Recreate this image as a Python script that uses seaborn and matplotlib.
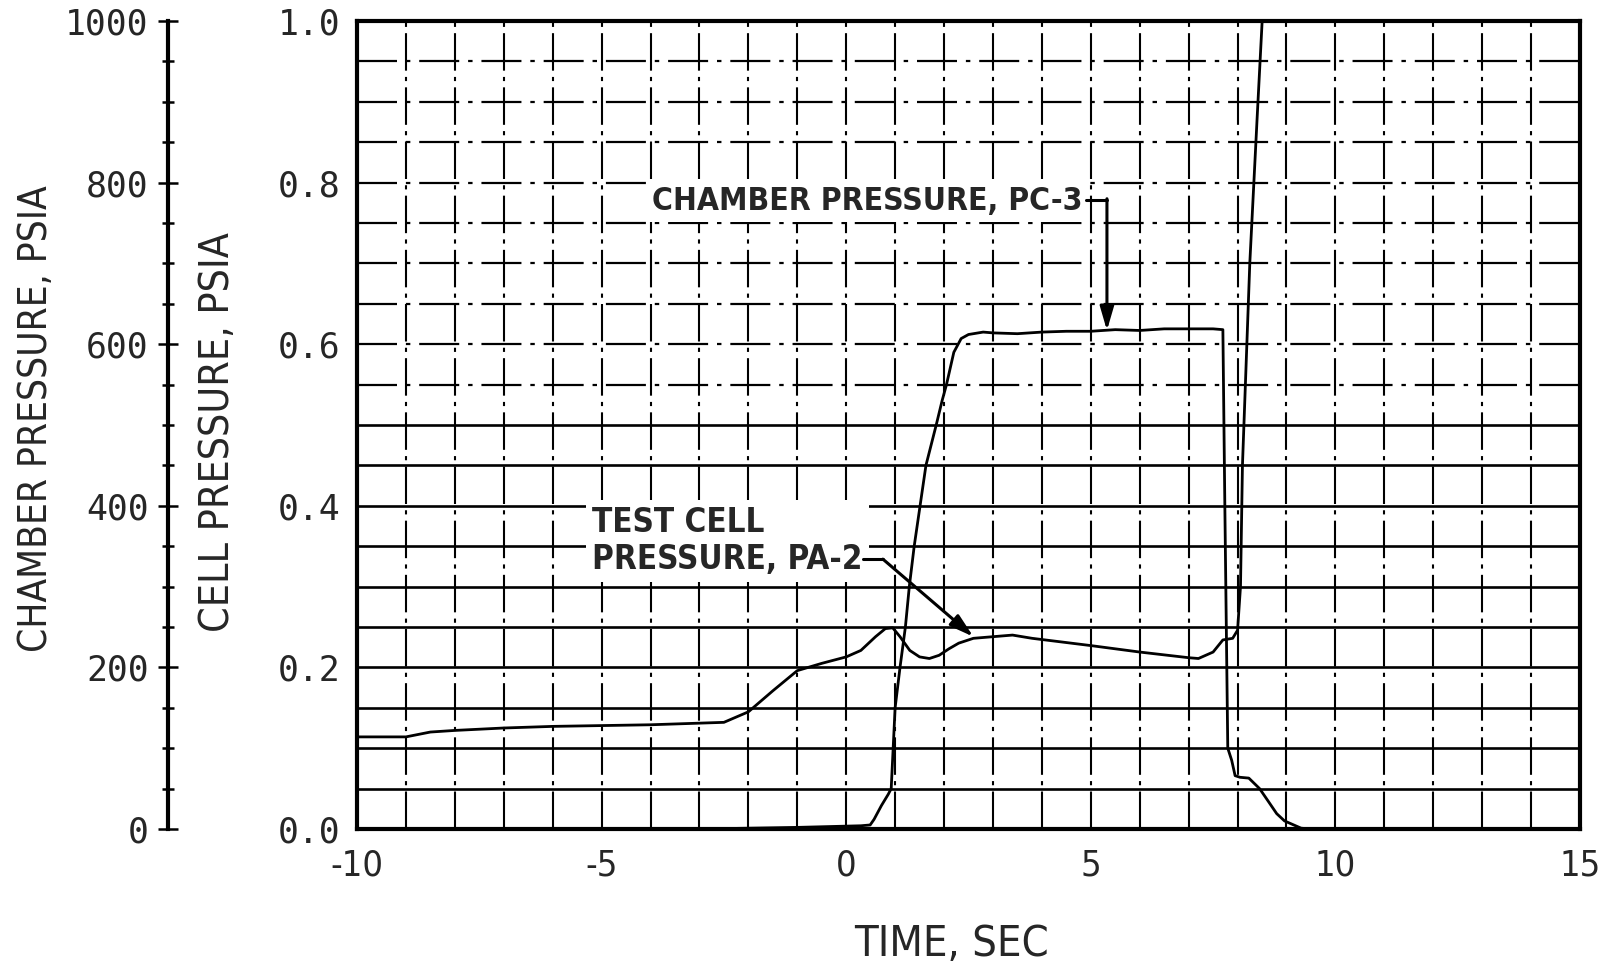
import numpy as np
import pandas as pd
import matplotlib
matplotlib.use('Agg')
import matplotlib.pyplot as plt
import seaborn as sns
from matplotlib import font_manager
from matplotlib.ticker import MultipleLocator

# test cell pressure PA-2 (psia) vs time (sec)
time_cell = [-10, -9, -8.5, -8, -7, -6, -5, -4, -3, -2.5, -2, -1.5, -1, -0.5, 0,
             0.3, 0.6, 0.8, 0.95, 1.1, 1.3, 1.5, 1.7, 1.9, 2.1, 2.3, 2.6, 3.0, 3.4,
             3.8, 4.2, 5, 6, 7, 7.2, 7.5, 7.7, 7.9, 8.0, 8.06, 8.1, 8.25, 8.4, 8.52]
cell_psia = [0.114, 0.114, 0.120, 0.122, 0.125, 0.127, 0.128, 0.129, 0.131, 0.132,
             0.145, 0.171, 0.196, 0.205, 0.213, 0.221, 0.238, 0.248, 0.249, 0.238,
             0.221, 0.213, 0.211, 0.215, 0.223, 0.230, 0.236, 0.238, 0.240, 0.236,
             0.233, 0.227, 0.219, 0.212, 0.211, 0.219, 0.234, 0.236, 0.246, 0.30,
             0.45, 0.70, 0.88, 1.02]

# chamber pressure PC-3 (psia) vs time (sec)
time_chamber = [-10, -3, -1, 0.3, 0.49, 0.57, 0.72, 0.86, 0.92, 0.96, 1.0, 1.1, 1.21,
                1.29, 1.39, 1.51, 1.63, 1.84, 1.96, 2.05, 2.2, 2.35, 2.5, 2.8, 3.0,
                3.5, 4.0, 4.5, 5.0, 5.5, 6.0, 6.5, 7.0, 7.5, 7.7, 7.74, 7.8, 7.88,
                7.95, 8.05, 8.23, 8.45, 8.62, 8.8, 8.96, 9.3, 9.5, 15]
chamber_psia = [0, 0, 2, 4, 5, 12, 29, 43, 50, 100, 150, 200, 250, 300, 350, 400,
                450, 500, 530, 550, 590, 607, 612, 615, 614, 613, 615, 616, 616, 618,
                617, 619, 619, 619, 618, 400, 100, 85, 66, 64, 63, 50, 35, 19, 10,
                1, 0, 0]

x_ticks = [-10, -5, 0, 5, 10, 15]
x_tick_labels = ['-10', '-5', '0', '5', '10', '15']
cell_ticks = [0.0, 0.2, 0.4, 0.6, 0.8, 1.0]
chamber_ticks = [0, 200, 400, 600, 800, 1000]

df_cell = pd.DataFrame({'time': time_cell, 'p': cell_psia})
df_ch = pd.DataFrame({'time': time_chamber, 'p': chamber_psia})

sns.set_theme(style='white')

# look for a narrow/condensed sans face, otherwise Liberation Sans
narrow = dict(family='Liberation Sans')
for f in font_manager.fontManager.ttflist:
    if ('Narrow' in f.name or 'Condensed' in f.name) and 'Mono' not in f.name:
        narrow = dict(family=f.name)
        break
    if str(f.stretch) in ('condensed', 'semi-condensed') and 'Sans' in f.name and 'Mono' not in f.name:
        narrow = dict(family=f.name, stretch=f.stretch)
        break
mono = dict(family='DejaVu Sans Mono')
plt.rcParams['font.family'] = ['DejaVu Sans']
plt.rcParams['axes.unicode_minus'] = False

fig = plt.figure(figsize=(16.12, 9.67), dpi=100)
L, B, W, H = 357 / 1612, 1 - 829 / 967, (1580 - 357) / 1612, (829 - 21) / 967
ax = fig.add_axes([L, B, W, H])
ax.set_xlim(-10, 15)
ax.set_ylim(0, 1.0)

# chart-paper grid
for yv in np.arange(0.05, 0.99, 0.05):
    if yv < 0.52:
        ax.axhline(yv, color='black', lw=1.9, zorder=1)
    else:
        ax.axhline(yv, color='black', lw=1.6, ls=(0, (18, 4, 2, 4)), zorder=1)
for xv in range(-9, 15):
    ax.axvline(xv, color='black', lw=1.5, ls=(0, (18, 3, 2, 3)), zorder=1)

sns.lineplot(data=df_cell, x='time', y='p', ax=ax, color='black', lw=2.0,
             estimator=None, zorder=3)

ax_ch = ax.twinx()
ax_ch.set_ylim(0, 1000)
sns.lineplot(data=df_ch, x='time', y='p', ax=ax_ch, color='black', lw=2.0,
             estimator=None, zorder=3)
ax_ch.axis('off')

for s in ax.spines.values():
    s.set_linewidth(3)
    s.set_color('black')
    s.set_zorder(5)
ax.set_xticks(x_ticks)
ax.set_xticklabels(x_tick_labels, fontsize=26, **narrow)
ax.set_yticks(cell_ticks)
ax.set_yticklabels([f'{v:.1f}' for v in cell_ticks], fontsize=25, **mono)
ax.tick_params(axis='both', length=0)
ax.tick_params(axis='x', pad=14)
ax.tick_params(axis='y', pad=12)
ax.set_xlabel('')
ax.set_ylabel('')
ax.patch.set_alpha(0)

# outer chamber pressure scale
ax_out = fig.add_axes([168 / 1612, B, 0.0001, H])
ax_out.set_ylim(0, 1000)
ax_out.set_xticks([])
for k in ['top', 'right', 'bottom']:
    ax_out.spines[k].set_visible(False)
ax_out.spines['left'].set_linewidth(3)
ax_out.spines['left'].set_color('black')
ax_out.set_yticks(chamber_ticks)
ax_out.set_yticklabels([str(v) for v in chamber_ticks], fontsize=25, **mono)
ax_out.yaxis.set_minor_locator(MultipleLocator(50))
ax_out.tick_params(axis='y', which='both', left=True, color='black')
ax_out.tick_params(axis='y', which='major', direction='inout', length=14, width=1.8, pad=7)
ax_out.tick_params(axis='y', which='minor', direction='inout', length=8, width=1.8)
ax_out.patch.set_alpha(0)

# axis titles
t1 = fig.text(36 / 1612, 1 - 419 / 967, 'CHAMBER PRESSURE, PSIA', rotation=90,
              ha='center', va='center', fontsize=27, **narrow)
t2 = fig.text(218 / 1612, 1 - 432 / 967, 'CELL PRESSURE, PSIA', rotation=90,
              ha='center', va='center', fontsize=27, **narrow)
t3 = fig.text(951 / 1612, 1 - 944 / 967, 'TIME, SEC', ha='center', va='center',
              fontsize=27, **narrow)

# annotations
box = dict(fc='white', ec='none', pad=5)
a1 = ax.text(-3.97, 0.777, 'CHAMBER PRESSURE, PC-3', ha='left', va='center',
             fontsize=28, fontweight='bold', bbox=box, zorder=4, **narrow)
ax.plot([4.9, 5.33], [0.779, 0.779], color='black', lw=2.2, zorder=4)
ax.annotate('', xy=(5.33, 0.617), xytext=(5.33, 0.780),
            arrowprops=dict(arrowstyle='-|>,head_length=1.2,head_width=0.35',
                            color='black', lw=2.2, shrinkA=0, shrinkB=0), zorder=4)

a2 = ax.text(-5.19, 0.356, 'TEST CELL\nPRESSURE, PA-2', ha='left', va='center',
             fontsize=28, fontweight='bold', linespacing=1.15, bbox=box, zorder=4, **narrow)
ax.plot([0.35, 0.75], [0.334, 0.334], color='black', lw=2.2, zorder=4)
ax.annotate('', xy=(2.6, 0.238), xytext=(0.75, 0.334),
            arrowprops=dict(arrowstyle='-|>,head_length=1.2,head_width=0.35',
                            color='black', lw=2.2, shrinkA=0, shrinkB=0), zorder=4)

# scale the texts so their widths match the original lettering
renderer = fig.canvas.get_renderer()
for txt, target, vertical in [(t1, 468, True), (t2, 401, True), (t3, 195, False),
                              (a1, 432, False), (a2, 270, False)]:
    bb = txt.get_window_extent(renderer)
    size = bb.height if vertical else bb.width
    txt.set_fontsize(txt.get_fontsize() * target / size)

fig.savefig('out.png', dpi=100, facecolor='white')
